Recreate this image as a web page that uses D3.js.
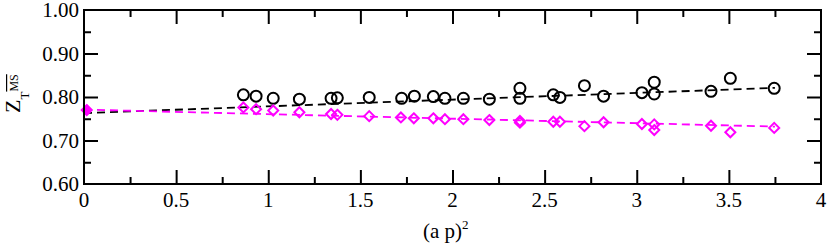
<!DOCTYPE html>
<html><head><meta charset="utf-8">
<script src="https://cdn.jsdelivr.net/npm/d3@7"></script>
<style>body{margin:0;background:#fff}svg{display:block}svg text{font-family:"Liberation Serif",Tinos,FreeSerif,"Times New Roman" !important}</style>
</head><body>
<svg id="c" width="830" height="246" style='font-family:"Liberation Serif",Tinos,FreeSerif'></svg>
<script>
// data: x = (a p)^2
const circleX = [0.865,0.934,1.027,1.169,1.341,1.375,1.548,1.724,1.793,1.896,1.959,2.059,2.200,2.366,2.366,2.547,2.583,2.716,2.820,3.028,3.095,3.095,3.403,3.508,3.746];
const circleY = [0.805,0.802,0.797,0.795,0.797,0.798,0.799,0.797,0.802,0.801,0.797,0.797,0.795,0.820,0.797,0.805,0.799,0.826,0.802,0.810,0.834,0.807,0.813,0.843,0.820];
const diamondX = [0.865,0.934,1.027,1.169,1.341,1.375,1.548,1.720,1.790,1.896,1.959,2.059,2.200,2.366,2.366,2.547,2.583,2.716,2.820,3.028,3.095,3.095,3.403,3.508,3.746];
const diamondY = [0.776,0.772,0.769,0.765,0.761,0.759,0.756,0.753,0.751,0.751,0.749,0.749,0.747,0.745,0.741,0.743,0.743,0.733,0.742,0.738,0.737,0.724,0.734,0.719,0.729];
const extrapX = [0.015];
const extrapY = [0.770];
const blackFit = [[0,0.763],[3.75,0.821]];
const magentaFit = [[0,0.771],[3.75,0.732]];
const xTicks = [0,0.5,1,1.5,2,2.5,3,3.5,4];
const xTickLabels = ["0","0.5","1","1.5","2","2.5","3","3.5","4"];
const xMinor = [0.25,0.75,1.25,1.75,2.25,2.75,3.25,3.75];
const yTicks = [0.6,0.7,0.8,0.9,1.0];
const yTickLabels = ["0.60","0.70","0.80","0.90","1.00"];
const yMinor = [0.65,0.75,0.85,0.95];

const FONT='"Liberation Serif", Tinos, FreeSerif';
const L=84,R=821,T=10,B=184;
const svg=d3.select("#c");
const x=d3.scaleLinear().domain([0,4]).range([L,R]);
const y=d3.scaleLinear().domain([0.6,1.0]).range([B,T]);
const MAG="#ff00ff";

// fit lines
const line=d3.line().x(d=>x(d[0])).y(d=>y(d[1]));
svg.append("path").attr("d",line(blackFit)).attr("fill","none").attr("stroke","#000").attr("stroke-width",1.8).attr("stroke-dasharray","8,5");
svg.append("path").attr("d",line(magentaFit)).attr("fill","none").attr("stroke",MAG).attr("stroke-width",1.8).attr("stroke-dasharray","8,5");

// circles
svg.append("g").selectAll("circle").data(circleX.map((v,i)=>[v,circleY[i]])).join("circle")
  .attr("cx",d=>x(d[0])).attr("cy",d=>y(d[1])).attr("r",5.5).attr("fill","none").attr("stroke","#000").attr("stroke-width",2);
// diamonds
const dia=d3.symbol().type(d3.symbolDiamond2).size(64);
svg.append("g").selectAll("path").data(diamondX.map((v,i)=>[v,diamondY[i]])).join("path")
  .attr("d",dia).attr("transform",d=>`translate(${x(d[0])},${y(d[1])})`).attr("fill","none").attr("stroke",MAG).attr("stroke-width",2);
svg.append("g").selectAll("path").data(extrapX.map((v,i)=>[v,extrapY[i]])).join("path")
  .attr("d",dia).attr("transform",d=>`translate(${x(d[0])},${y(d[1])})`).attr("fill",MAG).attr("stroke",MAG).attr("stroke-width",2);

// axes (ticks inward on all four sides)
function ax(gen,tr,vals,len){
  const g=svg.append("g").attr("transform",tr).call(gen.tickValues(vals).tickSize(len).tickFormat(""));
  g.select(".domain").remove();
  g.selectAll("line").attr("stroke","#000").attr("stroke-width",2);
  return g;
}
ax(d3.axisTop(x),`translate(0,${B})`,xTicks.slice(1,-1),14);
ax(d3.axisTop(x),`translate(0,${B})`,xMinor,7);
ax(d3.axisBottom(x),`translate(0,${T})`,xTicks.slice(1,-1),14);
ax(d3.axisBottom(x),`translate(0,${T})`,xMinor,7);
ax(d3.axisRight(y),`translate(${L},0)`,yTicks.slice(1,-1),14);
ax(d3.axisRight(y),`translate(${L},0)`,yMinor,7);
ax(d3.axisLeft(y),`translate(${R},0)`,yTicks.slice(1,-1),14);
ax(d3.axisLeft(y),`translate(${R},0)`,yMinor,7);

svg.append("rect").attr("x",L).attr("y",T).attr("width",R-L).attr("height",B-T).attr("fill","none").attr("stroke","#000").attr("stroke-width",2);

function txt(sel){ return sel.attr("font-family",FONT).style("font-family",FONT); }
// tick labels
txt(svg.append("g").selectAll("text").data(xTicks).join("text"))
  .attr("x",d=>x(d)).attr("y",207).attr("text-anchor","middle").style("font-size","21px").text((d,i)=>xTickLabels[i]);
txt(svg.append("g").selectAll("text").data(yTicks).join("text"))
  .attr("x",79).attr("y",d=>y(d)+7).attr("text-anchor","end").style("font-size","21px").text((d,i)=>yTickLabels[i]);

// x label
const xl=txt(svg.append("text")).attr("x",423).attr("y",238).style("font-size","21px");
xl.append("tspan").text("(a p)");
xl.append("tspan").attr("dy",-9).style("font-size","13px").text("2");

// y label
const yl=txt(svg.append("text")).attr("transform","translate(20,113) rotate(-90)").style("font-size","22px");
yl.append("tspan").text("Z");
yl.append("tspan").attr("dy",9).style("font-size","13px").text("T");
yl.append("tspan").attr("dy",-11).style("font-size","12px").style("text-decoration","overline").text("MS");
</script>
</body></html>
